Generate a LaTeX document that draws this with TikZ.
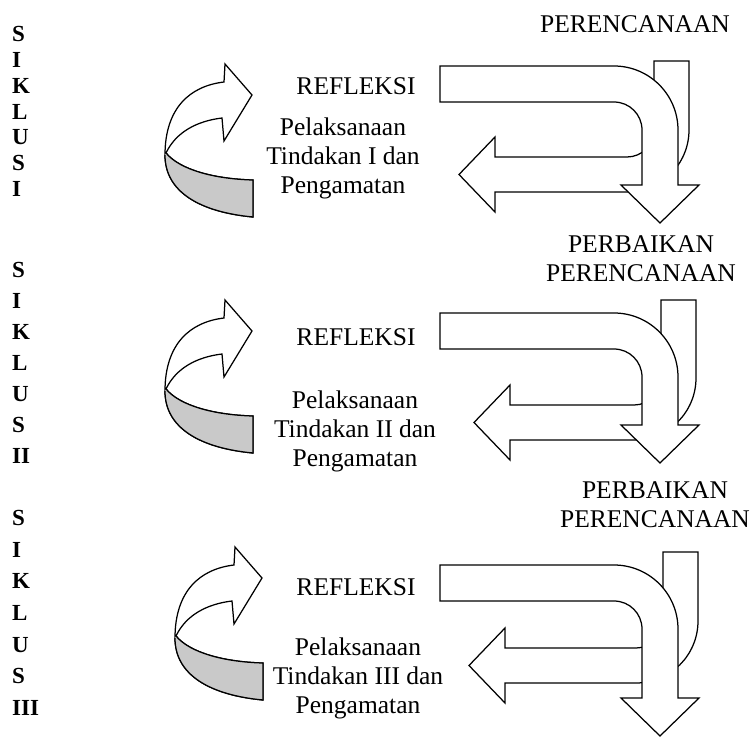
\documentclass[tikz,border=0pt]{standalone}
\usepackage{fontspec}
\setmainfont{Liberation Serif}
\usetikzlibrary{positioning}

\begin{document}
\begin{tikzpicture}[x=1pt,y=-1pt]
  \tikzset{blok/.style={draw=black,line width=1.25pt,fill=white,line join=miter}}
  \tikzset{garis/.style={draw=black,line width=1.25pt}}
  \tikzset{bayang/.style={fill=black!21}}
  \tikzset{teks/.style={font=\fontsize{25.5}{29}\selectfont,align=center,inner sep=0pt}}
  \tikzset{huruf/.style={font=\fontsize{23}{25}\selectfont\bfseries,anchor=west,inner sep=0pt}}
  \useasboundingbox (0,0) rectangle (756,742);

  % panah kanan tiap siklus
  \foreach \ya/\yb/\yc/\yd/\xa/\xb in {66/185/61/157/654/495, 313/425/300/405/661/510, 565/698/552/648/663/505}{
    % panah ke kiri
    \draw[blok] (\xa,\yc) -- (\xa+35,\yc) -- (\xa+35,\yd-27)
      .. controls (\xa+35,\yd+7.2) and (\xa+7.2,\yd+35) .. (\xa-27,\yd+35)
      -- (\xb,\yd+35) -- (\xb,\yd+55) -- (\xb-36,\yd+17.5) -- (\xb,\yd-20) -- (\xb,\yd)
      -- (\xa-27,\yd) .. controls (\xa-12.1,\yd) and (\xa,\yd-12.1) .. (\xa,\yd-27) -- cycle;
    % panah ke bawah
    \draw[blok] (440,\ya) -- (614,\ya) .. controls (649.3,\ya) and (678,\ya+28.7) .. (678,\ya+64)
      -- (678,\yb) -- (699,\yb) -- (660,\yb+38) -- (621,\yb) -- (642,\yb) -- (642,\ya+64)
      .. controls (642,\ya+48.5) and (629.5,\ya+36) .. (614,\ya+36) -- (440,\ya+36) -- cycle;
  }

  % panah lengkung kiri
  \foreach \dx/\dy in {0/0, 0/236, 10/483}{
    \begin{scope}[shift={(\dx,\dy)}]
      \draw[blok] (253,217) .. controls (200,212) and (165,192) .. (165,155)
        .. controls (165,108) and (190,86) .. (224,82) -- (225,64) -- (252,95) -- (224,141) -- (222,118)
        .. controls (197,121) and (176,132) .. (166,153)
        .. controls (180,170) and (215,179) .. (253,180) -- cycle;
      \fill[bayang] (166,153) .. controls (180,170) and (215,179) .. (253,180) -- (253,217)
        .. controls (200,212) and (165,192) .. (165,155) -- cycle;
      \draw[garis] (166,153) .. controls (180,170) and (215,179) .. (253,180) -- (253,217)
        .. controls (200,212) and (165,192) .. (165,155);
    \end{scope}
  }

  % teks
  \node[teks] (perencanaan1) at (635,24) {PERENCANAAN};
  \node[teks] (refleksi1) at (356,86) {REFLEKSI};
  \node[teks] (pelaksanaan1) at (343,158) {Pelaksanaan\\Tindakan I dan\\Pengamatan};
  \node[teks] (perbaikan2) at (641,259) {PERBAIKAN\\PERENCANAAN};
  \node[teks] (refleksi2) at (356,337) {REFLEKSI};
  \node[teks] (pelaksanaan2) at (355,431) {Pelaksanaan\\Tindakan II dan\\Pengamatan};
  \node[teks] (perbaikan3) at (655,505) {PERBAIKAN\\PERENCANAAN};
  \node[teks] (refleksi3) at (356,587) {REFLEKSI};
  \node[teks] (pelaksanaan3) at (358,678) {Pelaksanaan\\Tindakan III dan\\Pengamatan};

  % huruf SIKLUS
  \foreach \h/\y [count=\i] in {S/34, I/60, K/86, L/112, U/137, S/163, I/189}
    \node[huruf] (siklusA\i) at (12,\y) {\h};
  \foreach \h/\y [count=\i] in {S/270, I/301, K/332, L/363, U/394, S/425, II/456}
    \node[huruf] (siklusB\i) at (12,\y) {\h};
  \foreach \h/\y [count=\i] in {S/518, I/550, K/581, L/613, U/645, S/676, III/708}
    \node[huruf] (siklusC\i) at (12,\y) {\h};
\end{tikzpicture}
\end{document}
